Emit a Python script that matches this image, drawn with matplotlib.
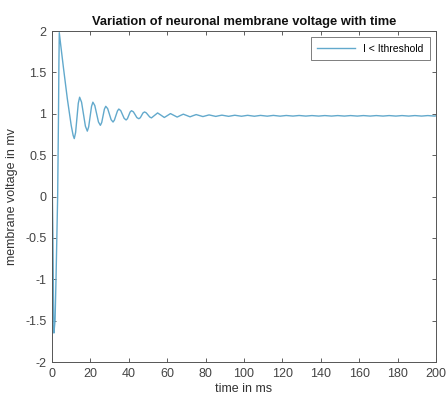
import matplotlib
matplotlib.use("Agg")
import matplotlib.pyplot as plt

plt.rcParams["font.family"] = ["Liberation Sans", "DejaVu Sans"]

# values (time in ms, voltage in mV)
t = [0.0, 0.5, 0.8, 1.0, 1.6, 2.1, 2.95, 3.4, 3.6, 3.8,
     4.5, 6.0, 8.0, 10.0, 11.0, 11.6,
     12.3, 13.0, 13.7, 14.4,
     15.4, 16.4, 17.4, 18.4,
     19.1, 19.85, 20.6, 21.3,
     22.3, 23.25, 24.2, 25.2,
     25.9, 26.6, 27.3, 28.0,
     29.0, 29.9, 30.8, 31.8,
     32.5, 33.3, 34.1, 34.8,
     35.8, 36.7, 37.6, 38.6,
     39.3, 40.0, 40.7, 41.4,
     42.4, 43.3, 44.2, 45.2,
     46.0, 46.7, 47.4, 48.2,
     49.1, 50.0, 50.9, 51.8,
     53.4, 55.0, 56.75, 58.5, 60.1, 61.7, 63.45, 65.2, 66.8, 68.4,
     70.15, 71.9, 73.5, 75.1, 76.85, 78.6, 80.2, 81.8, 83.55, 85.3,
     86.9, 88.5,
     92.0, 95.2, 98.7, 101.9, 105.4, 108.6, 112.1, 115.3, 118.8, 122.0,
     125.5, 128.7, 132.2, 135.4, 138.9, 142.1, 145.6, 148.8, 152.3, 155.5,
     159.0, 162.2, 165.7, 168.9, 172.4, 175.6, 179.1, 182.3, 185.8, 189.0,
     192.5, 195.7, 199.2, 200.0]
v = [0.35, -0.5, -1.3, -1.65, -1.5, -1.0, 0.0, 1.0, 1.6, 1.98,
     1.84, 1.55, 1.18, 0.86, 0.74, 0.70,
     0.773, 0.95, 1.127, 1.20,
     1.140, 0.995, 0.850, 0.79,
     0.841, 0.965, 1.089, 1.14,
     1.099, 1.000, 0.901, 0.86,
     0.894, 0.975, 1.056, 1.09,
     1.062, 0.995, 0.928, 0.90,
     0.923, 0.979, 1.034, 1.057,
     1.038, 0.991, 0.944, 0.925,
     0.941, 0.981, 1.021, 1.037,
     1.023, 0.989, 0.954, 0.94,
     0.952, 0.981, 1.010, 1.022,
     1.011, 0.986, 0.961, 0.95,
     0.980, 1.010, 0.983, 0.955, 0.978, 1.002, 0.981, 0.960, 0.978, 0.995,
     0.979, 0.963, 0.977, 0.990, 0.978, 0.966, 0.976, 0.986, 0.977, 0.968,
     0.976, 0.983,
     0.969, 0.982, 0.970, 0.981, 0.970, 0.980, 0.971, 0.980, 0.971, 0.979,
     0.972, 0.979, 0.972, 0.978, 0.972, 0.978, 0.972, 0.978, 0.972, 0.978,
     0.972, 0.978, 0.972, 0.978, 0.972, 0.978, 0.972, 0.978, 0.972, 0.978,
     0.972, 0.978, 0.972, 0.975]

xticks = [0, 20, 40, 60, 80, 100, 120, 140, 160, 180, 200]
yticks = [-2, -1.5, -1, -0.5, 0, 0.5, 1, 1.5, 2]
yticklabels = ["-2", "-1.5", "-1", "-0.5", "0", "0.5", "1", "1.5", "2"]

fig = plt.figure(figsize=(4.47, 3.99), dpi=100)
ax = fig.add_axes([0.1163, 0.0927, 0.8591, 0.8296])

ax.plot(t, v, color="#62a9cc", lw=1.0, label="I < Ithreshold")

ax.set_xlim(0, 200)
ax.set_ylim(-2, 2)
ax.set_xticks(xticks)
ax.set_yticks(yticks)
ax.set_yticklabels(yticklabels)
ax.tick_params(direction="in", top=True, right=True, length=3, width=0.6,
               labelsize=9, colors="#444444", pad=4)
for s in ax.spines.values():
    s.set_color("#555555")
    s.set_linewidth(0.7)

ax.set_title("Variation of neuronal membrane voltage with time",
             fontsize=9.3, fontweight="bold", pad=4, color="#111111")
ax.set_xlabel("time in ms", fontsize=9, color="#333333", labelpad=2.5)
ax.set_ylabel("membrane voltage in mv", fontsize=9, color="#333333", labelpad=5)

leg = ax.legend(loc="upper right", fontsize=7.5, frameon=True, fancybox=False,
                handlelength=3.6, borderpad=0.6, borderaxespad=0.6)
leg.get_frame().set_edgecolor("#444444")
leg.get_frame().set_linewidth(0.6)

fig.savefig("out.png", dpi=100)
